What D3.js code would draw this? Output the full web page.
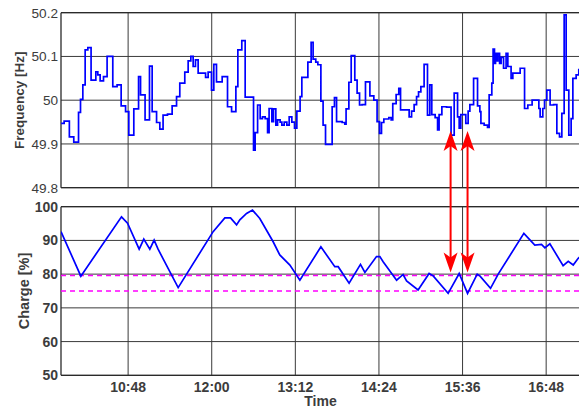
<!DOCTYPE html>
<html><head><meta charset="utf-8">
<script src="https://cdn.jsdelivr.net/npm/d3@7"></script>
<style>
html,body{margin:0;padding:0;background:#fff;}
svg{display:block;font-family:"Liberation Sans",Arial,Helvetica,sans-serif;}
</style></head>
<body><svg id="c" width="579" height="408"></svg>
<script>
// ---- data (time in minutes after midnight) ----
const freqTime = [590.3,592.9,597.4,601.2,605.3,607.0,609.0,611.0,613.3,616.1,620.2,621.9,623.9,626.8,629.9,634.8,638.5,642.0,645.8,648.6,652.9,657.0,658.7,662.6,666.4,668.7,672.5,675.3,678.1,681.9,685.9,689.7,692.5,696.8,699.7,702.0,704.0,706.0,708.3,714.7,716.9,719.8,721.8,724.1,729.0,733.6,737.1,740.8,742.5,745.9,748.8,756.0,757.4,759.5,761.7,763.7,766.0,768.1,769.4,771.8,773.2,775.2,776.7,778.9,780.4,782.4,784.7,786.7,789.0,791.3,793.3,796.1,797.6,802.8,805.6,807.3,809.6,811.4,814.0,815.9,818.0,823.7,825.7,827.5,832.3,834.6,835.7,838.1,840.1,843.2,845.2,847.3,849.5,852.4,856.2,859.6,862.4,864.5,866.2,868.2,872.5,874.5,875.9,878.8,881.1,882.6,890.0,892.1,894.3,896.4,898.1,900.1,902.9,905.8,907.8,909.5,912.4,914.5,915.8,918.2,922.2,926.1,928.8,931.7,933.1,934.5,938.8,940.8,942.3,945.5,948.9,950.9,951.8,954.6,957.5,958.9,961.2,962.3,963.5,964.4,965.5,966.4,967.9,969.2,971.3,973.5,975.0,977.8,979.3,985.6,989.4,992.2,995.9,1001.7,1002.8,1005.1,1006.6,1008.6,1011.4,1014.4,1017.2,1019.5,1021.5,1023.5,1025.2,1027.5,1029.5,1031.0,1033.8,1036.1,1038.0];
const freqValue = [49.947,49.952,49.916,49.904,49.972,50.002,50.035,50.115,50.12,50.046,50.065,50.058,50.044,50.054,50.1,50.031,50.035,49.987,49.974,49.92,49.98,50.054,50.012,49.955,50.078,49.974,49.949,49.934,49.966,49.968,49.987,50.008,50.039,50.064,50.09,50.1,50.077,50.092,50.062,50.052,50.064,50.023,50.082,50.042,50.054,49.985,49.974,50.031,50.115,50.136,50.007,49.886,49.926,49.989,49.958,49.962,49.958,49.926,49.981,49.951,49.98,49.943,49.955,49.95,49.943,49.95,49.943,49.962,49.95,49.936,49.975,50.008,50.052,50.087,50.132,50.094,50.087,50.081,49.998,49.943,49.899,49.985,50.006,49.951,49.949,49.945,49.98,50.041,50.102,50.046,50.016,49.989,49.99,50.042,50.01,50.0,49.951,49.924,49.949,49.957,49.96,49.955,49.992,50.013,50.027,49.978,49.962,49.975,49.99,50.008,50.019,50.031,50.082,49.966,50.035,49.967,49.96,49.932,49.967,49.985,49.984,49.92,50.016,49.962,49.936,49.967,49.947,49.975,49.99,50.05,49.987,49.974,49.947,49.943,49.938,50.012,50.039,50.117,50.084,50.107,50.09,50.107,50.084,50.098,50.073,50.107,50.077,50.05,50.062,50.073,49.981,49.989,50.0,49.981,49.962,49.981,50.0,50.023,49.989,49.99,49.924,49.916,49.97,50.195,50.023,49.92,49.958,50.05,50.058,50.07,50.07];

const chargeTime = [590.2,607.3,642.3,647.5,657.5,661.5,666.7,670.4,673.8,691.1,721.2,731.3,736.2,741.4,744.2,750.0,755.1,761.4,772.9,778.6,787.3,795.9,814.0,826.0,828.9,838.3,848.1,851.9,861.9,864.8,867.6,879.2,884.8,887.8,897.7,907.2,910.7,923.6,933.1,940.3,948.6,950.9,960.1,966.7,988.8,998.2,1004.0,1006.9,1011.2,1022.6,1027.0,1031.3,1035.6,1038.0];
const chargeValue = [92.6,79.4,97.0,95.1,87.4,90.4,87.4,90.1,87.4,76.0,92.6,96.7,96.7,94.6,96.1,98.0,99.0,96.5,89.6,85.7,82.7,78.2,88.1,82.2,82.2,77.3,82.9,80.5,85.2,85.2,83.7,78.2,79.9,78.0,75.3,80.2,79.5,74.3,80.2,74.3,80.0,79.5,75.8,80.0,92.1,88.6,88.8,87.8,89.0,82.5,83.8,82.7,84.7,85.4];

const limitValues = [79.6, 75.0];

const arrowTimes = [925.7, 940.3];
const arrowFreq = 49.9295;
const arrowCharge = 80.5;

const timeTicks = [648, 720, 792, 864, 936, 1008];
const timeTickLabels = ["10:48","12:00","13:12","14:24","15:36","16:48"];
const freqTicks = [49.8, 49.9, 50.0, 50.1, 50.2];
const freqTickLabels = ["49.8","49.9","50","50.1","50.2"];
const chargeTicks = [50, 60, 70, 80, 90, 100];
const chargeTickLabels = ["50","60","70","80","90","100"];

// ---- layout ----
const svg = d3.select("#c");
const L = 61, R = 581;
const top1 = 12.7, bot1 = 187.7, top2 = 206.7, bot2 = 375.3;

const x = d3.scaleLinear().domain([590.2, 1038.0]).range([L, R]);
const yF = d3.scaleLinear().domain([49.8, 50.2]).range([bot1, top1]);
const yC = d3.scaleLinear().domain([50, 100]).range([bot2, top2]);

const gridColor = "#3a3a3a";
const textColor = "#3c3c3c";

function panel(y, ticks, labels, top, bot, bold) {
  const g = svg.append("g");
  g.selectAll("line.h").data(ticks).enter().append("line")
    .attr("x1", L).attr("x2", R).attr("y1", d => y(d)).attr("y2", d => y(d))
    .attr("stroke", gridColor).attr("stroke-width", 1);
  g.selectAll("line.v").data(timeTicks).enter().append("line")
    .attr("x1", d => x(d)).attr("x2", d => x(d)).attr("y1", top).attr("y2", bot)
    .attr("stroke", gridColor).attr("stroke-width", 1);
  g.append("line").attr("x1", L).attr("x2", L).attr("y1", top).attr("y2", bot)
    .attr("stroke", "#2a2a2a").attr("stroke-width", 1.3);
  g.append("line").attr("x1", L).attr("x2", R).attr("y1", bot).attr("y2", bot)
    .attr("stroke", "#2a2a2a").attr("stroke-width", 1.3);
  g.append("line").attr("x1", L).attr("x2", R).attr("y1", top).attr("y2", top)
    .attr("stroke", "#2a2a2a").attr("stroke-width", 1.3);
  g.selectAll("text.yt").data(ticks).enter().append("text")
    .attr("x", L - 3).attr("y", d => y(d)).attr("dy", "0.36em")
    .attr("text-anchor", "end").attr("font-size", bold ? 14 : 13.6)
    .attr("font-weight", bold ? "bold" : "normal")
    .attr("fill", textColor)
    .text((d, i) => labels[i]);
  return g;
}

panel(yF, freqTicks, freqTickLabels, top1, bot1, false);
panel(yC, chargeTicks, chargeTickLabels, top2, bot2, true);

svg.selectAll("text.xt").data(timeTicks).enter().append("text")
  .attr("x", d => x(d)).attr("y", 391.5)
  .attr("text-anchor", "middle").attr("font-size", 14).attr("font-weight", "bold")
  .attr("fill", textColor).text((d, i) => timeTickLabels[i]);

svg.append("text").attr("x", (L + 580) / 2).attr("y", 405.5)
  .attr("text-anchor", "middle").attr("font-size", 14).attr("font-weight", "bold")
  .attr("fill", textColor).text("Time");

svg.append("text").attr("transform", `translate(23.5,${(top1 + bot1) / 2}) rotate(-90)`)
  .attr("text-anchor", "middle").attr("font-size", 13.5).attr("font-weight", "bold")
  .attr("fill", textColor).text("Frequency [Hz]");
svg.append("text").attr("transform", `translate(29,${(top2 + bot2) / 2}) rotate(-90)`)
  .attr("text-anchor", "middle").attr("font-size", 14.5).attr("font-weight", "bold")
  .attr("fill", textColor).text("Charge [%]");

const defs = svg.append("defs");
defs.append("clipPath").attr("id", "cp1").append("rect").attr("x", L).attr("y", top1 - 2).attr("width", R - L).attr("height", bot1 - top1 + 2);
defs.append("clipPath").attr("id", "cp2").append("rect").attr("x", L).attr("y", top2 - 2).attr("width", R - L).attr("height", bot2 - top2 + 2);

const freqData = freqTime.map((t, i) => [t, freqValue[i]]);
svg.append("path").attr("clip-path", "url(#cp1)")
  .attr("d", d3.line().x(d => x(d[0])).y(d => yF(d[1])).curve(d3.curveStepAfter)(freqData))
  .attr("fill", "none").attr("stroke", "#0000ff").attr("stroke-width", 1.7);

svg.selectAll("line.lim").data(limitValues).enter().append("line")
  .attr("x1", L).attr("x2", R).attr("y1", d => yC(d)).attr("y2", d => yC(d))
  .attr("stroke", "#ff00ff").attr("stroke-width", 1.5).attr("stroke-dasharray", "5,4");

const chargeData = chargeTime.map((t, i) => [t, chargeValue[i]]);
svg.append("path").attr("clip-path", "url(#cp2)")
  .attr("d", d3.line().x(d => x(d[0])).y(d => yC(d[1]))(chargeData))
  .attr("fill", "none").attr("stroke", "#0000ff").attr("stroke-width", 1.7);

const head = "M0,0 L-7,20 L0,15 L7,20 Z";
arrowTimes.forEach(t => {
  const ax = x(t), y1 = yF(arrowFreq), y2 = yC(arrowCharge);
  svg.append("line").attr("x1", ax).attr("x2", ax).attr("y1", y1 + 12).attr("y2", y2 - 12)
    .attr("stroke", "#ff0000").attr("stroke-width", 2);
  svg.append("path").attr("d", head).attr("fill", "#ff0000")
    .attr("transform", `translate(${ax},${y1})`);
  svg.append("path").attr("d", head).attr("fill", "#ff0000")
    .attr("transform", `translate(${ax},${y2}) rotate(180)`);
});
</script></body></html>
